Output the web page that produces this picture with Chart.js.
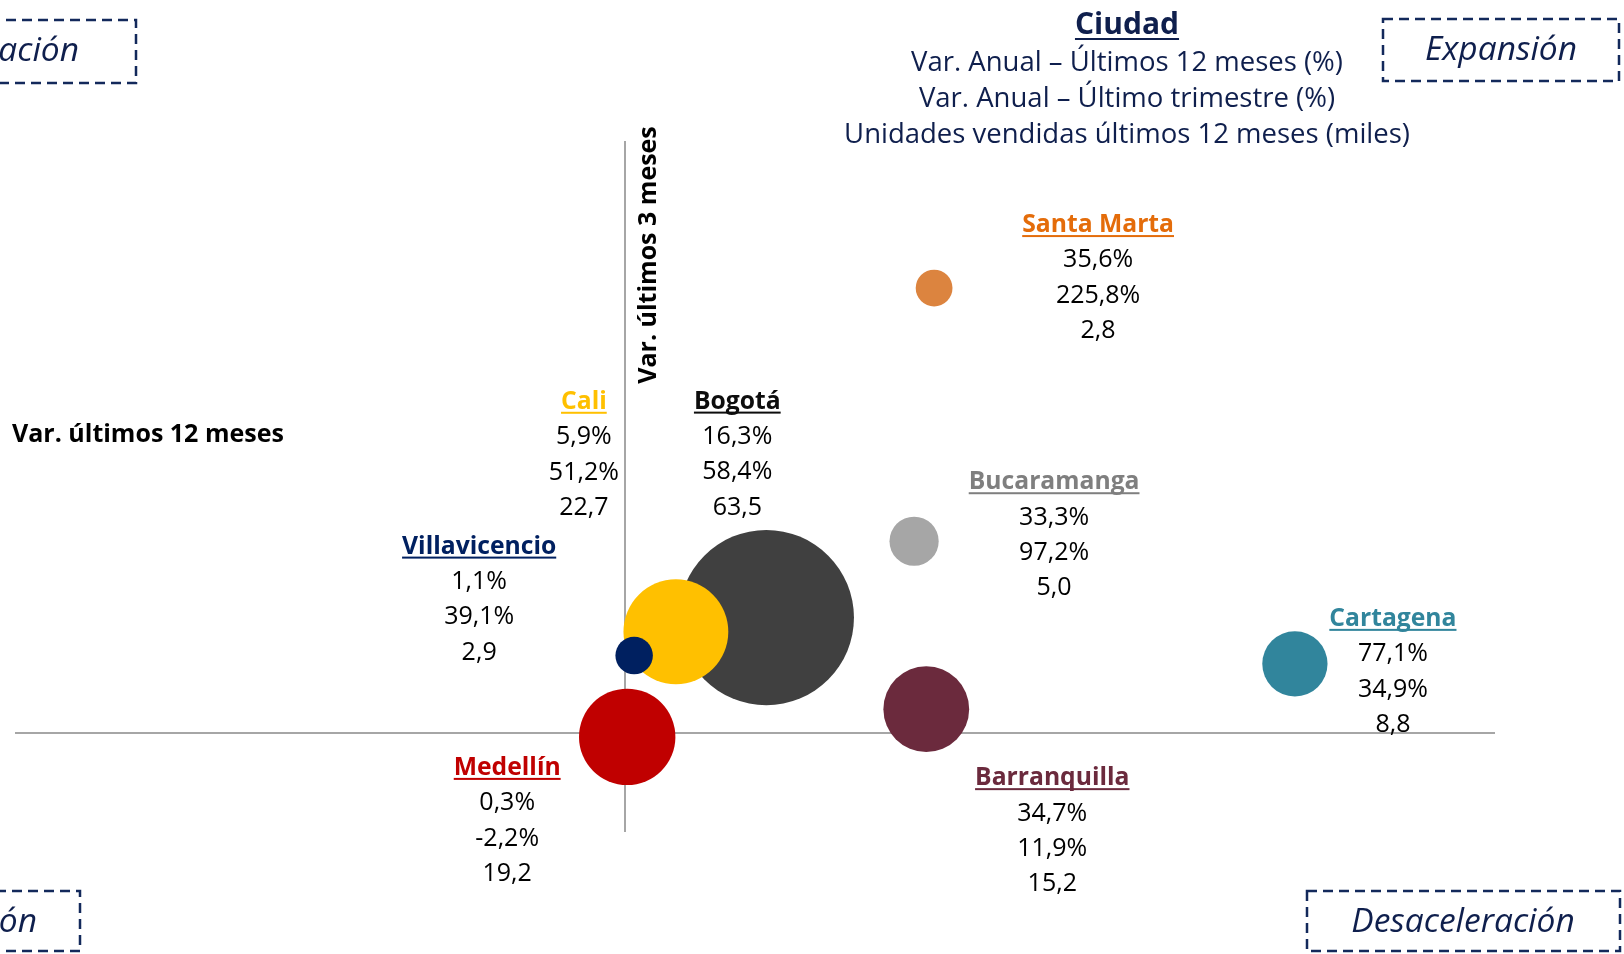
<!DOCTYPE html>
<html lang="es">
<head>
<meta charset="utf-8">
<title>Ciudades - variación anual de unidades vendidas</title>
<script src="https://cdn.jsdelivr.net/npm/chart.js@4.4.1/dist/chart.umd.min.js"></script>
<style>
  html, body { margin: 0; padding: 0; background: #fff; }
  #wrap { width: 1624px; height: 954px; }
</style>
</head>
<body>
<div id="wrap"><canvas id="cityChart" width="1624" height="954"></canvas></div>
<script>
// datos (ciudad, var. 12 meses %, var. último trimestre %, unidades miles)
const cities = ['Bogotá', 'Medellín', 'Barranquilla', 'Cartagena', 'Bucaramanga', 'Santa Marta', 'Cali', 'Villavicencio'];
const var12m = [16.3, 0.3, 34.7, 77.1, 33.3, 35.6, 5.9, 1.1];
const var3m = [58.4, -2.2, 11.9, 34.9, 97.2, 225.8, 51.2, 39.1];
const units = [63.5, 19.2, 15.2, 8.8, 5.0, 2.8, 22.7, 2.9];

const headerLines = ['Var. Anual – Últimos 12 meses (%)', 'Var. Anual – Último trimestre (%)', 'Unidades vendidas últimos 12 meses (miles)'];

// estilos
const bubbleColors = ['#404040', '#C00000', '#6B2A3D', '#31859C', '#A6A6A6', '#DC843F', '#FFC000', '#002060'];
const nameColors = ['#0D0D0D', '#C00000', '#6B2A3D', '#31859C', '#7F7F7F', '#E46C0A', '#FFC000', '#002060'];
// desplazamiento de cada etiqueta respecto al centro de la burbuja (px)
const labelOffsets = [[-29, -216], [-120, 31], [126, 69], [98, -45], [140, -59], [164, -63], [-92, -230], [-155, -109]];

const FONT = '"Open Sans", "Noto Sans", sans-serif';
const NAVY = '#0F1F4D';
const bubbleScale = 11;

function fmt(v, pct) {
    return v.toFixed(1).replace('.', ',') + (pct ? '%' : '');
}

function underlinedText(ctx, text, x, y, color, gap) {
    ctx.fillStyle = color;
    ctx.fillText(text, x, y);
    const w = ctx.measureText(text).width;
    ctx.fillRect(x - w / 2, y + gap, w, 2);
}

function dashedBox(ctx, x1, y1, x2, y2, text, tx, ty, align) {
    ctx.save();
    ctx.strokeStyle = '#13295B';
    ctx.lineWidth = 2.5;
    ctx.setLineDash([10, 6]);
    ctx.strokeRect(x1, y1, x2 - x1, y2 - y1);
    ctx.setLineDash([]);
    ctx.fillStyle = NAVY;
    ctx.font = 'italic 33.5px ' + FONT;
    ctx.textAlign = align;
    ctx.textBaseline = 'middle';
    ctx.fillText(text, tx, ty);
    ctx.restore();
}

const annotations = {
    id: 'annotations',
    afterDatasetsDraw(chart) {
        const ctx = chart.ctx;
        const xs = chart.scales.x, ys = chart.scales.y;
        ctx.save();
        ctx.textAlign = 'center';
        ctx.textBaseline = 'middle';

        // etiquetas de cada ciudad
        cities.forEach((c, i) => {
            const px = xs.getPixelForValue(var12m[i]) + labelOffsets[i][0];
            const py = ys.getPixelForValue(var3m[i]) + labelOffsets[i][1];
            ctx.font = 'bold 24.7px ' + FONT;
            underlinedText(ctx, c, px, py, nameColors[i], 10);
            ctx.font = '25px ' + FONT;
            ctx.fillStyle = '#000';
            ctx.fillText(fmt(var12m[i], true), px, py + 35.3);
            ctx.fillText(fmt(var3m[i], true), px, py + 70.6);
            ctx.fillText(fmt(units[i], false), px, py + 105.9);
        });

        // encabezado
        ctx.font = 'bold 30px ' + FONT;
        underlinedText(ctx, 'Ciudad', 1127, 25, NAVY, 13);
        ctx.font = '27.5px ' + FONT;
        ctx.fillStyle = NAVY;
        headerLines.forEach((t, i) => ctx.fillText(t, 1127, 63 + i * 36.3));

        // títulos de ejes
        ctx.fillStyle = '#000';
        ctx.font = 'bold 25px ' + FONT;
        ctx.textAlign = 'left';
        ctx.fillText('Var. últimos 12 meses', 12, 435);
        ctx.save();
        ctx.translate(649, 255);
        ctx.rotate(-Math.PI / 2);
        ctx.textAlign = 'center';
        ctx.fillText('Var. últimos 3 meses', 0, 0);
        ctx.restore();
        ctx.restore();

        // cuadrantes
        dashedBox(ctx, -170, 20, 136, 83, 'Recuperación', 79, 51, 'right');
        dashedBox(ctx, 1383, 19, 1619, 81, 'Expansión', 1501, 50, 'center');
        dashedBox(ctx, -180, 891, 80, 951, 'Contracción', 37, 922, 'right');
        dashedBox(ctx, 1307, 891, 1620, 951, 'Desaceleración', 1463, 922, 'center');
    }
};

const points = cities.map((c, i) => ({ x: var12m[i], y: var3m[i], r: bubbleScale * Math.sqrt(units[i]) }));

new Chart(document.getElementById('cityChart').getContext('2d'), {
    type: 'bubble',
    data: {
        datasets: [{
            label: 'Ciudades',
            data: points,
            backgroundColor: bubbleColors,
            borderWidth: 0
        }]
    },
    options: {
        responsive: false,
        animation: false,
        layout: { autoPadding: false, padding: { left: 16, right: 130, top: 142, bottom: 123 } },
        plugins: { legend: { display: false }, tooltip: { enabled: false } },
        scales: {
            x: {
                type: 'linear', min: -70, max: 100,
                position: { y: 0 },
                grid: { display: false },
                ticks: { display: false },
                border: { display: true, color: '#A6A6A6', width: 2 }
            },
            y: {
                type: 'linear', min: -50, max: 300,
                position: { x: 0 },
                grid: { display: false },
                ticks: { display: false },
                border: { display: true, color: '#A6A6A6', width: 2 }
            }
        }
    },
    plugins: [annotations]
});
</script>
</body>
</html>
